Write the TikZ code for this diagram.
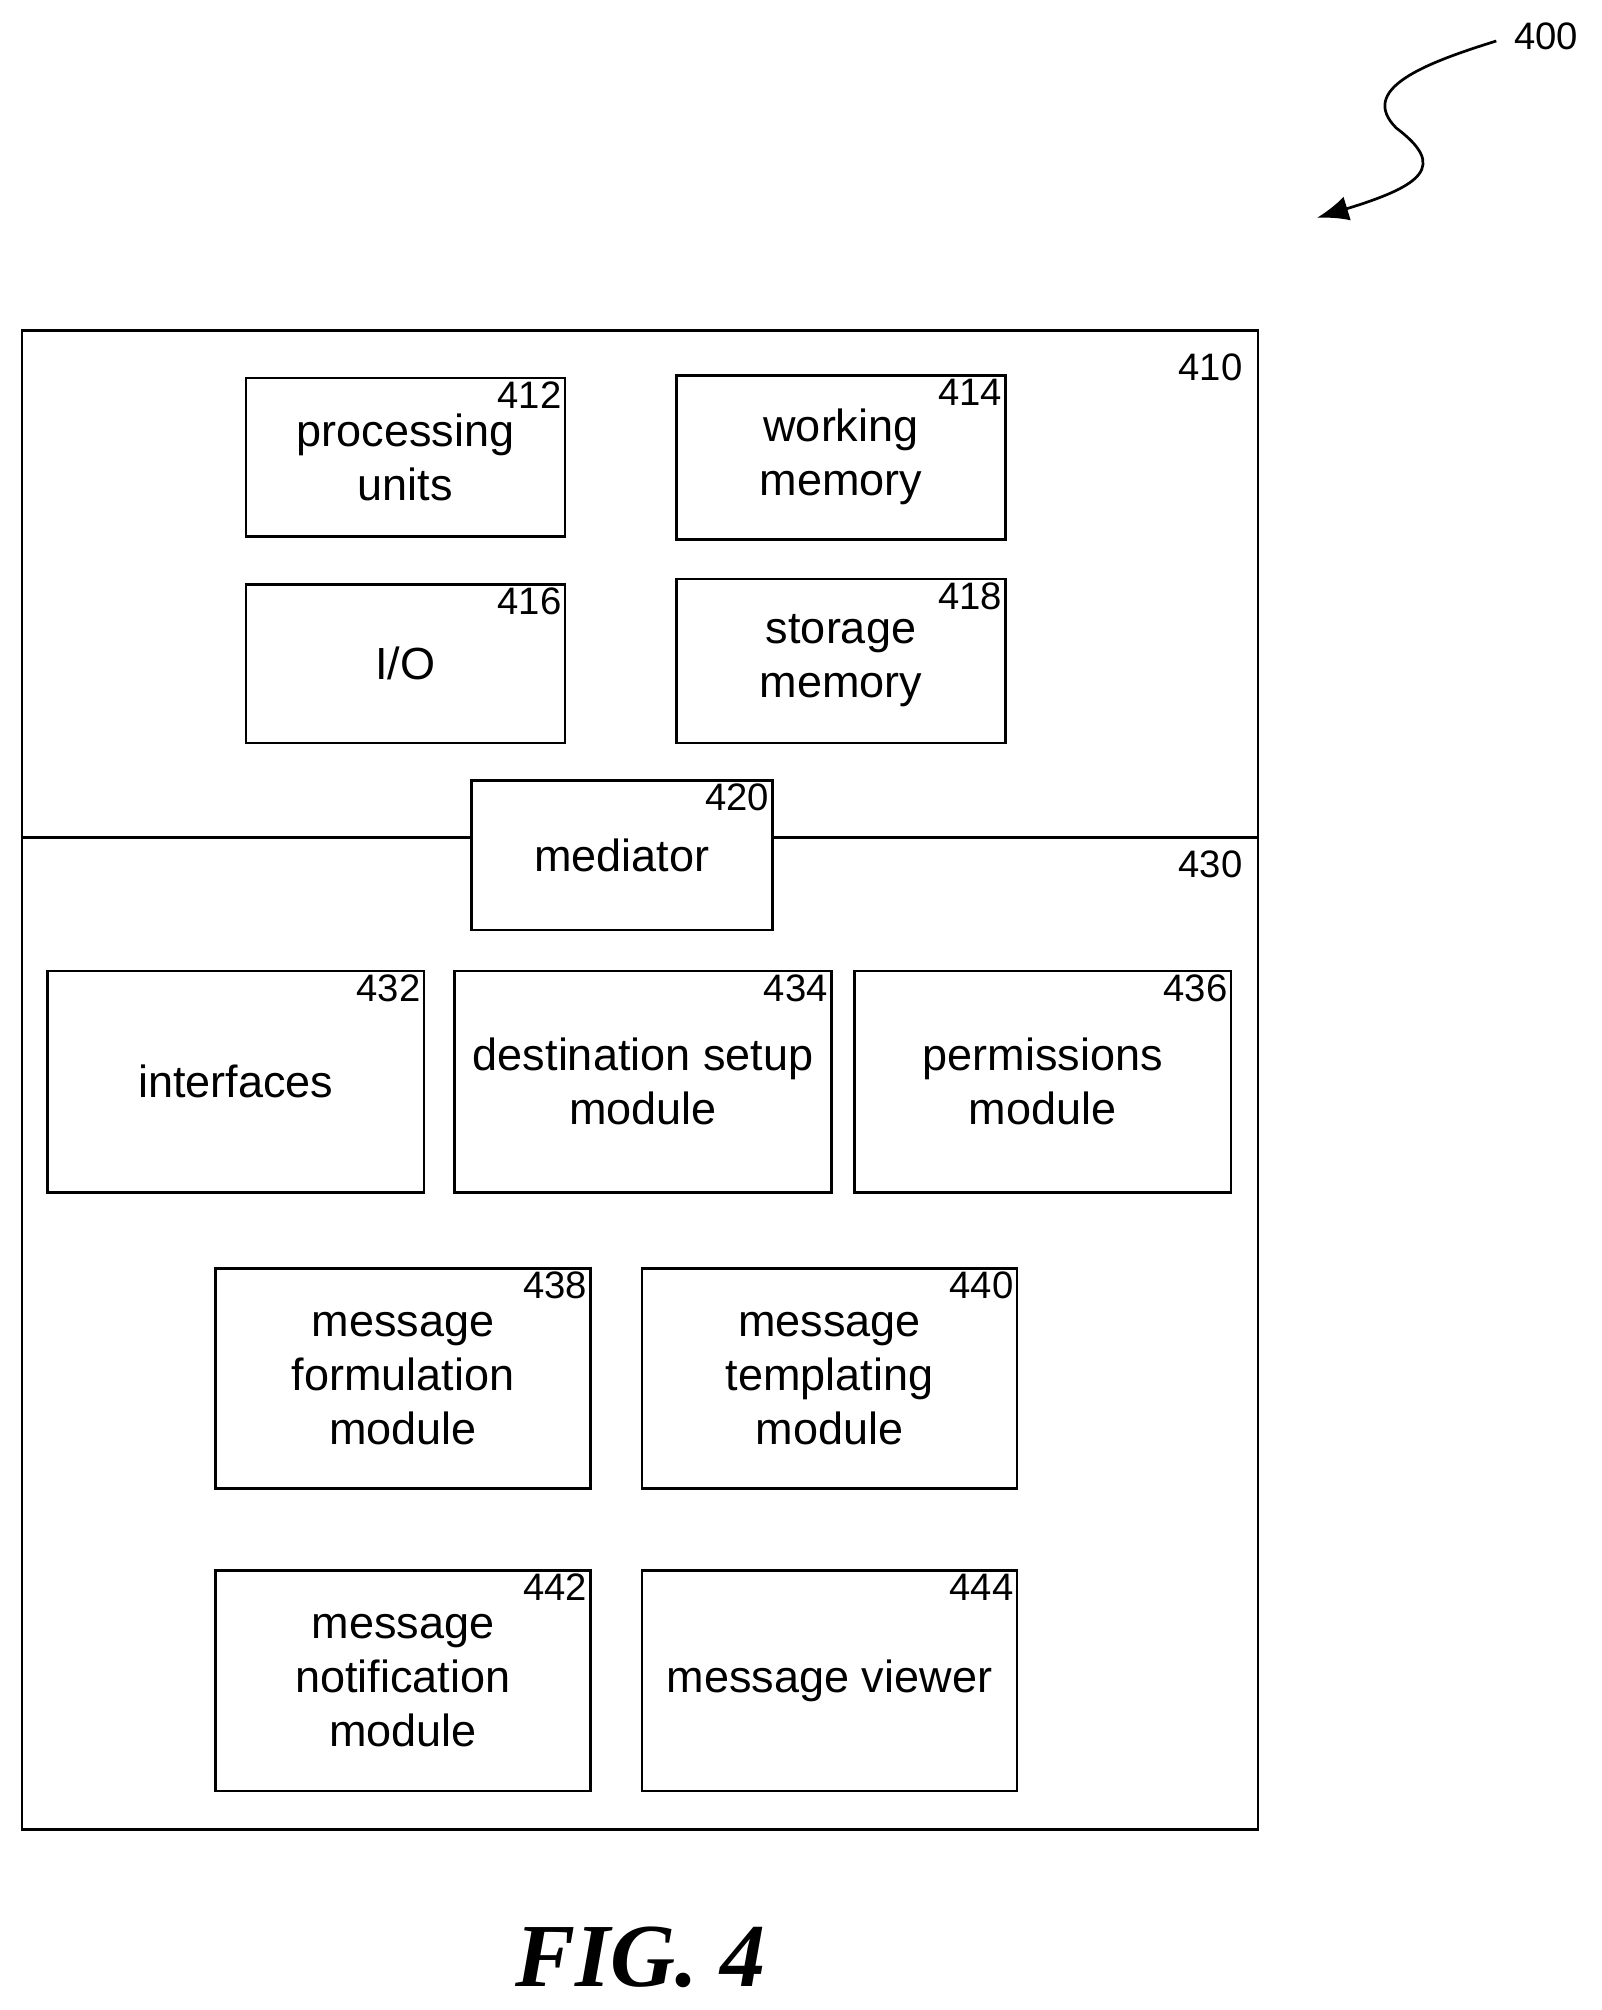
\documentclass[tikz,border=0pt]{standalone}
\usepackage{fontspec}
\setmainfont{Liberation Sans}
\newfontfamily\figfont{Liberation Serif}
\usetikzlibrary{arrows.meta,positioning}
\tikzset{
  box/.style={draw, line width=1.2pt, align=center, font=\fontsize{20}{24}\selectfont, inner sep=0pt},
  num/.style={anchor=north east, inner sep=2pt, font=\fontsize{17}{20}\selectfont},
}
\begin{document}
\begin{tikzpicture}[x=0.02cm,y=-0.02cm]
\useasboundingbox (0,0) rectangle (1250,1569);

\node[box, minimum width=19.3cm, minimum height=23.4cm] (outer) at (499.5,843) {};
\node[num, anchor=north] (l410) at (945,272) {410};
\node[num, anchor=north] (l430) at (945,660) {430};

\node[box, minimum width=4.98cm, minimum height=2.48cm] (pu) at (316.5,357) {processing\\units};
\node[box, minimum width=5.14cm, minimum height=2.56cm] (wm) at (656.5,357) {working\\memory};
\node[box, minimum width=4.98cm, minimum height=2.48cm] (io) at (316.5,518) {I/O};
\node[box, minimum width=5.14cm, minimum height=2.56cm] (sm) at (656.5,516) {storage\\memory};
\node[box, minimum width=4.7cm, minimum height=2.34cm] (med) at (485.5,667.5) {mediator};

\node[box, minimum width=5.88cm, minimum height=3.46cm] (intf) at (184,844.5) {interfaces};
\node[box, minimum width=5.88cm, minimum height=3.46cm] (dest) at (502,844.5) {destination setup\\module};
\node[box, minimum width=5.88cm, minimum height=3.46cm] (perm) at (814,844.5) {permissions\\module};
\node[box, minimum width=5.86cm, minimum height=3.44cm] (form) at (314.5,1076) {message\\formulation\\module};
\node[box, minimum width=5.86cm, minimum height=3.44cm] (tmpl) at (647.5,1076) {message\\templating\\module};
\node[box, minimum width=5.86cm, minimum height=3.44cm] (noti) at (314.5,1312) {message\\notification\\module};
\node[box, minimum width=5.86cm, minimum height=3.44cm] (view) at (647.5,1312) {message viewer};

\foreach \n/\t in {pu/412,wm/414,io/416,sm/418,med/420,intf/432,dest/434,perm/436,form/438,tmpl/440,noti/442,view/444}
  \node[num] at (\n.north east) {\t};

% divider between 410 and 430
\draw[line width=1.2pt] (outer.west |- 0,654) -- (med.west |- 0,654);
\draw[line width=1.2pt] (med.east |- 0,654) -- (outer.east |- 0,654);

% reference numeral
\node[font=\fontsize{17}{20}\selectfont] (l400) at (1207,28) {400};
\coordinate (tip) at (1028,170);
\draw[line width=1.2pt, -{Latex[length=14pt,width=11pt]}] (1168,32) .. controls (1110,50) and (1060,70) .. (1090,100) .. controls (1130,130) and (1110,145) .. (tip);

\node[font=\figfont\bfseries\itshape\fontsize{40}{44}\selectfont] (fig) at (500,1528) {FIG. 4};
\end{tikzpicture}
\end{document}
